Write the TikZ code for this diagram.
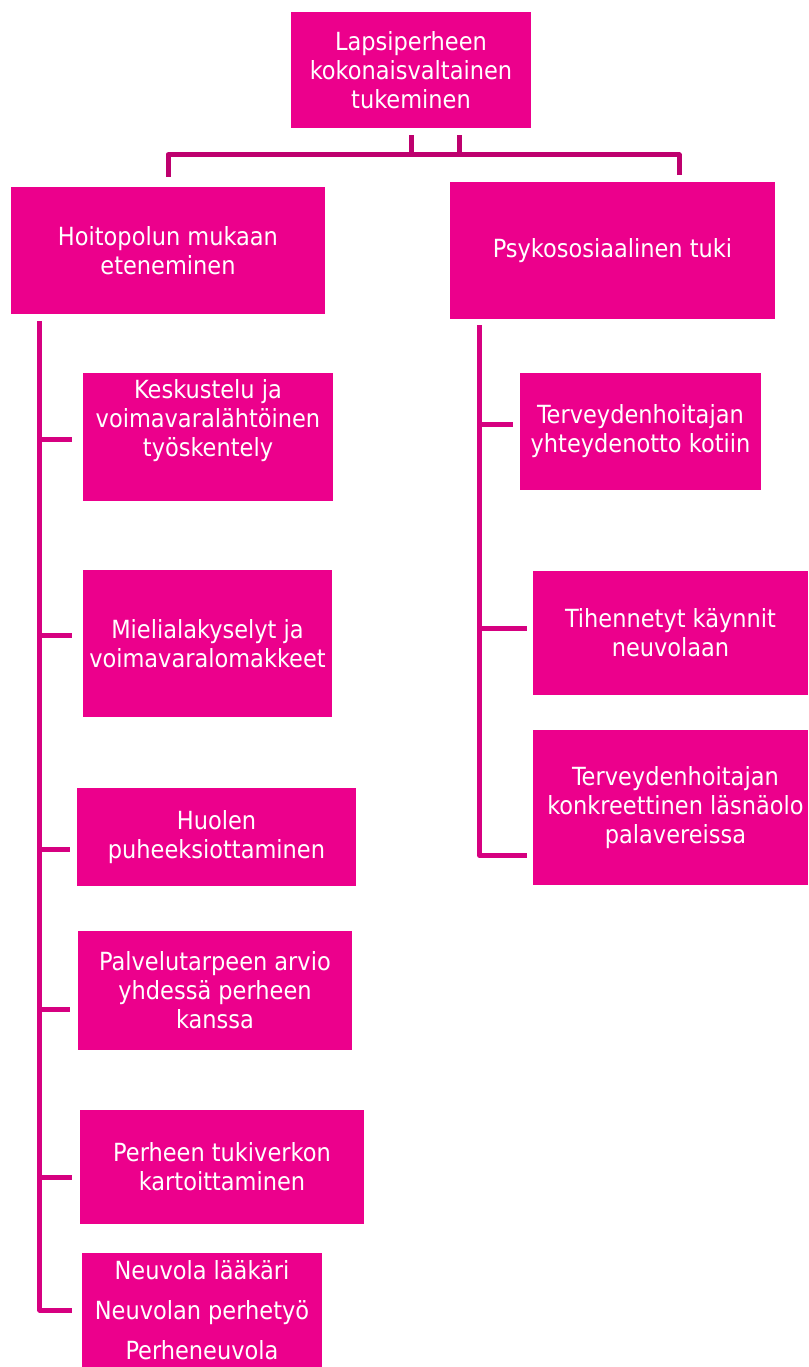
\documentclass[tikz,border=0pt]{standalone}
\usepackage{fontspec}
\setmainfont{DejaVu Sans Condensed}
\definecolor{boxfill}{RGB}{236,0,140}
\definecolor{topline}{RGB}{190,0,110}
\definecolor{sideline}{RGB}{214,0,128}
\begin{document}
\begin{tikzpicture}[x=1pt,y=-1pt,
  box/.style={fill=boxfill, draw=none, inner sep=0pt, text=white, align=center,
    font=\fontsize{25}{29}\selectfont},
  txt/.style={text=white, align=center, inner sep=0pt, font=\fontsize{25}{29}\selectfont},
  topconn/.style={draw=topline, line width=5pt, line join=round},
  sideconn/.style={draw=sideline, line width=5pt, line join=round}]
\useasboundingbox (0,0) rectangle (808,1367);
% level 0
\node[box, minimum width=240pt, minimum height=116pt] (top) at (411,70)
  {Lapsiperheen\\kokonaisvaltainen\\tukeminen};
% level 1
\node[box, minimum width=314pt, minimum height=127pt] (L1) at (168,250.5)
  {Hoitopolun mukaan\\eteneminen};
\node[box, minimum width=325pt, minimum height=137pt] (R1) at (612.5,250.5)
  {Psykososiaalinen tuki};
% left children
\node[box, minimum width=250pt, minimum height=128pt] (K) at (208,437) {};
\node[txt] (Kt) at ([yshift=16pt]K.center) {Keskustelu ja\\voimavaralähtöinen\\työskentely};
\node[box, minimum width=249pt, minimum height=147pt] (M) at (207.5,643.5)
  {Mielialakyselyt ja\\voimavaralomakkeet};
\node[box, minimum width=279pt, minimum height=98pt] (H) at (216.5,837)
  {Huolen\\puheeksiottaminen};
\node[box, minimum width=274pt, minimum height=119pt] (P) at (215,990.5)
  {Palvelutarpeen arvio\\yhdessä perheen\\kanssa};
\node[box, minimum width=284pt, minimum height=114pt] (T) at (222,1167)
  {Perheen tukiverkon\\kartoittaminen};
\node[box, minimum width=240pt, minimum height=114pt,
  font=\fontsize{25}{40}\selectfont] (N) at (202,1310)
  {Neuvola lääkäri\\Neuvolan perhetyö\\Perheneuvola};
% right children
\node[box, minimum width=241pt, minimum height=117pt] (R2) at (640.5,431.5)
  {Terveydenhoitajan\\yhteydenotto kotiin};
\node[box, minimum width=275pt, minimum height=124pt] (R3) at (670.5,633)
  {Tihennetyt käynnit\\neuvolaan};
\node[box, minimum width=275pt, minimum height=155pt] (R4) at (670.5,807.5) {};
\node[txt] (R4t) at ([xshift=5pt]R4.center) {Terveydenhoitajan\\konkreettinen läsnäolo\\palavereissa};
% top connectors
\draw[topconn] ([yshift=10pt]L1.north) -- ++(0,-22) -| ([xshift=66.5pt,yshift=7pt]R1.north);
\draw[topconn] ([yshift=-7pt]top.south) -- ++(0,20);
\draw[topconn] ([xshift=48pt,yshift=-7pt]top.south) -- ++(0,20);
% left spine
\coordinate (sL) at ([xshift=29pt,yshift=-7pt]L1.south west);
\coordinate (eL) at (72,0);
\draw[sideconn] (sL) |- ([xshift=-10pt]N.west);
\draw[sideconn] ([yshift=-2pt]sL |- K.west) -- ([yshift=-2pt]eL |- K.west);
\draw[sideconn] ([yshift=8.5pt]sL |- M.west) -- ([yshift=8.5pt]eL |- M.west);
\draw[sideconn] ([yshift=-12pt]sL |- H.west) -- ([xshift=-2pt,yshift=-12pt]eL |- H.west);
\draw[sideconn] ([yshift=-18.5pt]sL |- P.west) -- ([xshift=-2pt,yshift=-18.5pt]eL |- P.west);
\draw[sideconn] ([yshift=-10pt]sL |- T.west) -- ([yshift=-10pt]eL |- T.west);
% right spine
\coordinate (sR) at ([xshift=30pt,yshift=-6pt]R1.south west);
\draw[sideconn] (sR) |- ([yshift=-48pt,xshift=-6pt]R4.west);
\draw[sideconn] ([yshift=7.5pt]sR |- R2.west) -- ([xshift=-7pt,yshift=7.5pt]R2.west);
\draw[sideconn] ([yshift=5pt]sR |- R3.west) -- ([xshift=-6pt,yshift=5pt]R3.west);
\end{tikzpicture}
\end{document}
